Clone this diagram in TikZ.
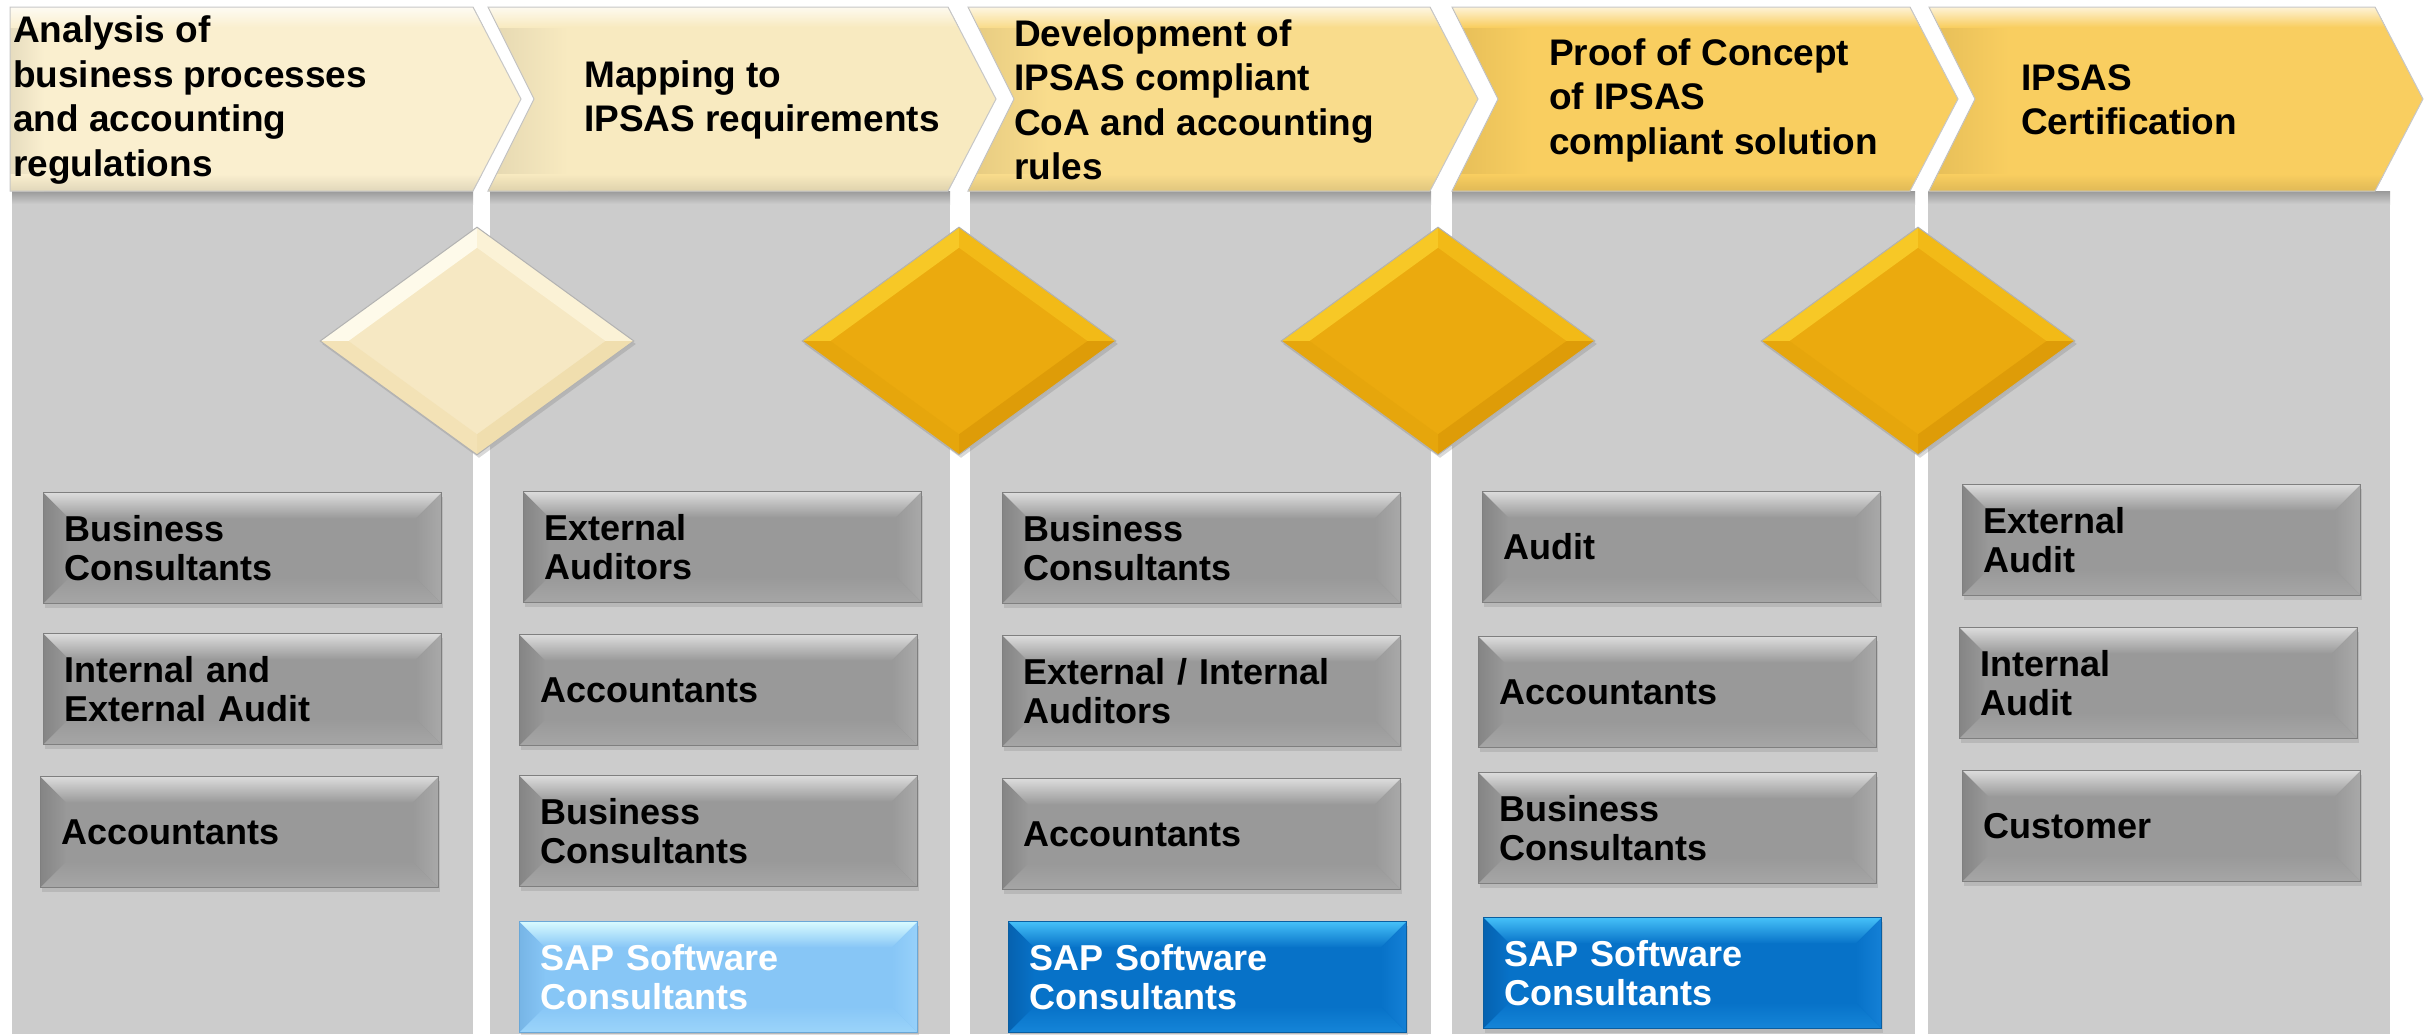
\documentclass[tikz,border=0pt]{standalone}
\usepackage{fontspec}
\setmainfont{Liberation Sans}
\usetikzlibrary{shapes.geometric,shadows,calc}

% colours
\definecolor{panelgrey}{RGB}{204,204,204}
\definecolor{hdrA}{HTML}{FAEFCF}
\definecolor{hdrB}{HTML}{F8EAC0}
\definecolor{hdrC}{HTML}{F9DC8C}
\definecolor{hdrD}{HTML}{F9CE60}
\definecolor{hdrE}{HTML}{F9CE60}
\definecolor{gbbody}{HTML}{999999}
\definecolor{gbtop}{HTML}{DCDCDC}
\definecolor{gbleft}{HTML}{858585}
\definecolor{gbright}{HTML}{A9A9A9}
\definecolor{gbbottom}{HTML}{A6A6A6}
\definecolor{gbedge}{HTML}{7F7F7F}
\definecolor{lbbody}{HTML}{87C6F6}
\definecolor{lbtop}{HTML}{D8FBFF}
\definecolor{lbleft}{HTML}{77B5E6}
\definecolor{lbright}{HTML}{97D1FA}
\definecolor{lbbottom}{HTML}{9BD4FA}
\definecolor{lbedge}{HTML}{6AA8D8}
\definecolor{dbbody}{HTML}{0772C8}
\definecolor{dbtop}{HTML}{45C0F8}
\definecolor{dbleft}{HTML}{0662B0}
\definecolor{dbright}{HTML}{1480D6}
\definecolor{dbbottom}{HTML}{1585D8}
\definecolor{dbedge}{HTML}{0A5EA0}
\definecolor{crbody}{HTML}{F6E8C3}
\definecolor{crnw}{HTML}{FEFAEA}
\definecolor{crne}{HTML}{FBF2D6}
\definecolor{crse}{HTML}{F0DEAE}
\definecolor{crsw}{HTML}{F3E2B6}
\definecolor{gdbody}{HTML}{EBAA0E}
\definecolor{gdnw}{HTML}{F7C826}
\definecolor{gdne}{HTML}{F2BA17}
\definecolor{gdse}{HTML}{DE9C08}
\definecolor{gdsw}{HTML}{E6A60C}

\newcommand{\boxfont}{\fontsize{36}{38.5}\selectfont\bfseries}
\newcommand{\stagefont}{\fontsize{37}{44.5}\selectfont\bfseries}
\newcommand{\bevw}{26}
% outline of one stage arrow: left edge, right corner, notch depth
\newcommand{\stagepath}[3]{(#1,7) -- (#2,7) -- (#2+48,99) -- (#2,191) -- (#1,191) -- (#1+#3,99) -- cycle}

\tikzset{
  bevel colors/.code n args={6}{\def\bvbody{#1}\def\bvtop{#2}\def\bvleft{#3}\def\bvright{#4}\def\bvbottom{#5}\def\bvedge{#6}},
  rolebox/.style={rectangle, anchor=north west, minimum width=398pt, minimum height=111pt,
    text width=356pt, inner xsep=21pt, inner ysep=0pt, align=left, font=\boxfont,
    draw=\bvedge, line width=1.2pt, fill=\bvbody,
    drop shadow={opacity=0.25, shadow xshift=1pt, shadow yshift=-4pt},
    path picture={
      \coordinate (pnw) at (path picture bounding box.north west);
      \coordinate (pne) at (path picture bounding box.north east);
      \coordinate (psw) at (path picture bounding box.south west);
      \coordinate (pse) at (path picture bounding box.south east);
      \fill[left color=\bvleft, right color=\bvbody] (pnw) -- ([shift={(\bevw,\bevw)}]pnw) -- ([shift={(\bevw,-\bevw)}]psw) -- (psw) -- cycle;
      \fill[left color=\bvbody, right color=\bvright] (pne) -- ([shift={(-\bevw,\bevw)}]pne) -- ([shift={(-\bevw,-\bevw)}]pse) -- (pse) -- cycle;
      \fill[top color=\bvtop, bottom color=\bvbody] (pnw) -- (pne) -- ([shift={(-\bevw,\bevw)}]pne) -- ([shift={(\bevw,\bevw)}]pnw) -- cycle;
      \fill[top color=\bvbody, bottom color=\bvbottom] (psw) -- (pse) -- ([shift={(-\bevw,-\bevw)}]pse) -- ([shift={(\bevw,-\bevw)}]psw) -- cycle;
    }},
  greybox/.style={bevel colors={gbbody}{gbtop}{gbleft}{gbright}{gbbottom}{gbedge}, rolebox, text=black},
  lightsap/.style={bevel colors={lbbody}{lbtop}{lbleft}{lbright}{lbbottom}{lbedge}, rolebox, text=white},
  darksap/.style={bevel colors={dbbody}{dbtop}{dbleft}{dbright}{dbbottom}{dbedge}, rolebox, text=white},
  stone colors/.code n args={5}{\def\dmbody{#1}\def\dmnw{#2}\def\dmne{#3}\def\dmse{#4}\def\dmsw{#5}},
  stone/.style={diamond, minimum width=314pt, minimum height=228pt, inner sep=0pt,
    draw=black!30, line width=1pt, fill=\dmbody,
    drop shadow={opacity=0.3, shadow xshift=2pt, shadow yshift=-3pt},
    path picture={
      \coordinate (qn) at (path picture bounding box.north);
      \coordinate (qe) at (path picture bounding box.east);
      \coordinate (qs) at (path picture bounding box.south);
      \coordinate (qw) at (path picture bounding box.west);
      \coordinate (qc) at (path picture bounding box.center);
      \fill[\dmnw] (qw) -- (qn) -- ($(qc)!.82!(qn)$) -- ($(qc)!.82!(qw)$) -- cycle;
      \fill[\dmne] (qn) -- (qe) -- ($(qc)!.82!(qe)$) -- ($(qc)!.82!(qn)$) -- cycle;
      \fill[\dmse] (qe) -- (qs) -- ($(qc)!.82!(qs)$) -- ($(qc)!.82!(qe)$) -- cycle;
      \fill[\dmsw] (qs) -- (qw) -- ($(qc)!.82!(qw)$) -- ($(qc)!.82!(qs)$) -- cycle;
    }},
  creamstone/.style={stone colors={crbody}{crnw}{crne}{crse}{crsw}, stone},
  goldstone/.style={stone colors={gdbody}{gdnw}{gdne}{gdse}{gdsw}, stone},
  hdrtext/.style={anchor=west, align=left, inner sep=0pt, font=\stagefont},
  hdredge/.style={draw=black!22, line width=1pt}
}

\begin{document}
\begin{tikzpicture}[x=1pt,y=-1pt]
\useasboundingbox (0,0) rectangle (2434,1034);
\fill[white] (0,0) rectangle (2434,1034);

% grey columns below the stages
\foreach \l/\r in {12/473,490/950,970/1431,1452/1915,1928/2390}{
  \fill[panelgrey] (\l,193) rectangle (\r,1034);
  \fill[top color=black!25!panelgrey, bottom color=panelgrey] (\l,191) rectangle (\r,204);
}

% stage arrows
\foreach \l/\c/\n/\col in {10/473/0/hdrA,488/948/46/hdrB,968/1430/46/hdrC,1452/1910/46/hdrD,1929/2375/46/hdrE}{
  \fill[\col] \stagepath{\l}{\c}{\n};
  \begin{scope}
    \clip \stagepath{\l}{\c}{\n};
    \fill[left color=black!8!\col, right color=\col] (\l,7) rectangle (\l+\n+34,191);
    \fill[top color=white!75!\col, bottom color=\col] (\l,7) rectangle (\c+48,27);
    \fill[top color=\col, bottom color=black!10!\col] (\l,174) rectangle (\c+48,191);
  \end{scope}
  \draw[hdredge] \stagepath{\l}{\c}{\n};
}

\node[hdrtext] (stage1) at (13,100) {Analysis of\\business processes\\and accounting\\regulations};
\node[hdrtext] (stage2) at (584,100) {Mapping to\\IPSAS requirements};
\node[hdrtext] (stage3) at (1014,100) {Development of\\IPSAS compliant\\CoA and accounting\\rules};
\node[hdrtext] (stage4) at (1549,100) {Proof of Concept\\of IPSAS\\compliant solution};
\node[hdrtext] (stage5) at (2021,100) {IPSAS\\Certification};

% milestones between the columns
\node[creamstone] (m1) at (477,341) {};
\node[goldstone] (m2) at (959,341) {};
\node[goldstone] (m3) at (1438,341) {};
\node[goldstone] (m4) at (1918,341) {};

% roles per stage
\node[greybox] (r1a) at (43,492) {Business\\Consultants};
\node[greybox] (r1b) at (43,633) {Internal and\\External Audit};
\node[greybox] (r1c) at (40,776) {Accountants};

\node[greybox] (r2a) at (523,491) {External\\Auditors};
\node[greybox] (r2b) at (519,634) {Accountants};
\node[greybox] (r2c) at (519,775) {Business\\Consultants};
\node[lightsap] (r2d) at (519,921) {SAP Software\\Consultants};

\node[greybox] (r3a) at (1002,492) {Business\\Consultants};
\node[greybox] (r3b) at (1002,635) {External / Internal\\Auditors};
\node[greybox] (r3c) at (1002,778) {Accountants};
\node[darksap] (r3d) at (1008,921) {SAP Software\\Consultants};

\node[greybox] (r4a) at (1482,491) {Audit};
\node[greybox] (r4b) at (1478,636) {Accountants};
\node[greybox] (r4c) at (1478,772) {Business\\Consultants};
\node[darksap] (r4d) at (1483,917) {SAP Software\\Consultants};

\node[greybox] (r5a) at (1962,484) {External\\Audit};
\node[greybox] (r5b) at (1959,627) {Internal\\Audit};
\node[greybox] (r5c) at (1962,770) {Customer};
\end{tikzpicture}
\end{document}
